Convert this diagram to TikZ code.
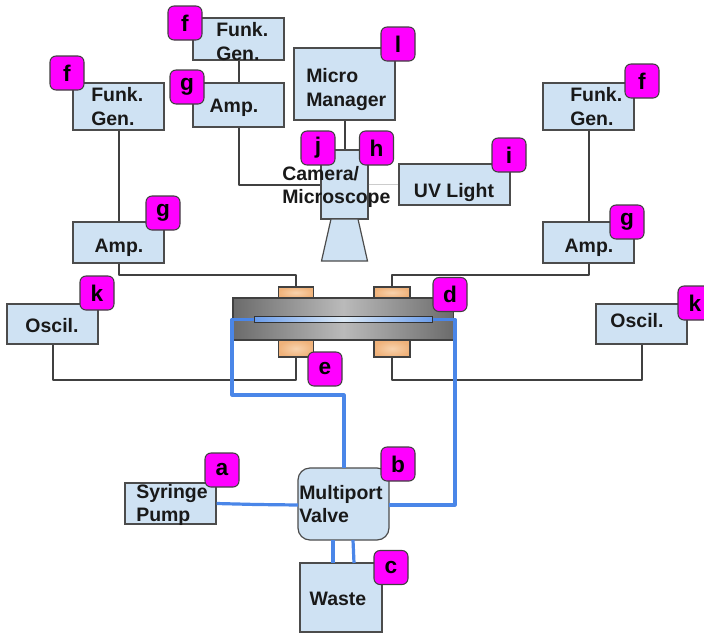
\documentclass[tikz,border=0pt]{standalone}
\usepackage{fontspec}
\setmainfont{Liberation Sans}
\begin{document}
\begin{tikzpicture}[x=0.75pt,y=-0.75pt,
  box/.style={draw=black!70,fill=boxblue,line width=0.9pt,inner sep=0pt},
  txt/.style={font=\fontsize{14.6}{17.4}\selectfont\bfseries,text=black!90,inner sep=0pt,align=left,anchor=west},
  badge/.style={draw=black!75,fill=badgecol,line width=0.8pt,rounded corners=4.5pt,minimum width=25.5pt,minimum height=25.5pt,inner sep=0pt,font=\fontsize{17}{19}\selectfont\bfseries},
  wire/.style={draw=black!75,line width=1.5pt,line join=round},
  tube/.style={draw=tubeblue,line width=2.4pt,line join=round},
  elec/.style={draw=black!75,line width=0.9pt,inner sep=0pt,inner color=elecl,outer color=elecd},
]
\definecolor{boxblue}{HTML}{CFE2F3}
\definecolor{badgecol}{HTML}{FF00FF}
\definecolor{tubeblue}{HTML}{4A86E8}
\definecolor{elecl}{HTML}{F8D3AE}
\definecolor{elecd}{HTML}{F0B27A}
\useasboundingbox (0,0) rectangle (704,633);
\newcommand{\bx}[6][box]{\node[#1,minimum width=#4*0.75pt,minimum height=#5*0.75pt] (#2) at (#3) {#6};}
% boxes
\bx{funkT}{238.5,39}{91}{42}{}
\bx{ampT}{238.5,105}{91}{44}{}
\bx{funkL}{118.5,106.5}{91}{47}{}
\bx{ampL}{118.5,242.5}{91}{41}{}
\bx{funkR}{588.5,106.5}{91}{47}{}
\bx{ampR}{588.5,242.5}{91}{41}{}
\bx{micro}{344.5,84}{101}{72}{}
\bx{uv}{454.5,184.5}{111}{41}{}
\bx{oscL}{52.5,324}{91}{40}{}
\bx{oscR}{641.5,324}{91}{40}{}
\bx{syr}{170.5,503.5}{91}{41}{}
\bx{waste}{341,597.5}{82}{69}{}
\node[box,rounded corners=9pt,minimum width=68.25pt,minimum height=54pt] (valve) at (343.5,504) {};
% connectors beneath the camera
\draw[wire] (funkT.south) -- (ampT.north);
\draw[wire] (funkL.south) -- (ampL.north);
\draw[wire] (funkR.south) -- (ampR.north);
\bx{cam}{344.5,184.5}{47}{69}{}
\draw[box] (331,219) -- (358,219) -- (367.5,261) -- (321.5,261) -- cycle;
\draw[wire] (micro.south) -- (cam.north);
\draw[wire] (ampT.south) |- (cam.west);
\draw[draw=black!20,line width=1.3pt] (cam.east) -- (uv.west);
% stage
\node[draw=black!75,line width=0.9pt,minimum width=165.4pt,minimum height=31.5pt,inner sep=0pt,left color=black!58,right color=black!58,middle color=black!27] (stage) at (343.25,319) {};
\node[elec,minimum width=26.25pt,minimum height=8.25pt] (elTL) at (296,292.5) {};
\node[elec,minimum width=27pt,minimum height=8.25pt] (elTR) at (392,292.5) {};
\node[elec,minimum width=26.25pt,minimum height=12.75pt] (elBL) at (296,348.5) {};
\node[elec,minimum width=27pt,minimum height=12.75pt] (elBR) at (392,348.5) {};
\draw[wire] (ampL.south) -- ++(0,11) -| (elTL.north);
\draw[wire] (ampR.south) -- ++(0,11) -| (elTR.north);
\draw[wire] (oscL.south) -- ++(0,35) -| (elBL.south);
\draw[wire] (oscR.south) -- ++(0,35) -| (elBR.south);
% tubing
\coordinate (vt) at (344,468);
\coordinate (vr) at (389,505);
\coordinate (wl) at (333,563);
\coordinate (wr) at (354,563);
\coordinate (vl1) at (333,540);
\coordinate (vl2) at (353,540);
\coordinate (syrv) at (298,505);
\node[draw=black!80,line width=0.9pt,minimum width=133.5pt,minimum height=4.9pt,inner sep=0pt,left color=tubeblue!75!boxblue,right color=tubeblue!75!boxblue,middle color=boxblue!70!white] (chan) at (343.5,319.5) {};
\draw[tube] (chan.west) -- (232,319.5) -- (232,395) -- (344,395) -- (vt);
\draw[tube] (chan.east) -- (455,319.5) -- (455,505) -- (vr);
\draw[tube] (syr.east) -- ++(40,1) -- (syrv);
\draw[tube] (vl1) -- (wl);
\draw[tube] (vl2) -- (wr);
% labels
\node[txt] (tFT) at (216,41.5) {Funk.\\Gen.};
\node[txt] (tFL) at (91,106.5) {Funk.\\Gen.};
\node[txt] (tFR) at (570,106.5) {Funk.\\Gen.};
\node[txt,anchor=center] (tAT) at (234,108) {Amp.};
\node[txt,anchor=center] (tAL) at (119,248) {Amp.};
\node[txt,anchor=center] (tAR) at (589,248) {Amp.};
\node[txt] (tMM) at (306,89.5) {Micro\\Manager};
\node[txt] (tCam) at (282,187) {Camera/\\Microscope};
\node[txt,anchor=center] (tUV) at (454,192.5) {UV Light};
\node[txt,anchor=center] (tOL) at (52,325.5) {Oscil.};
\node[txt,anchor=center] (tOR) at (637,320.5) {Oscil.};
\node[txt] (tSy) at (136,505) {Syringe\\Pump};
\node[txt] (tVa) at (299,504) {Multiport\\Valve};
\node[txt,anchor=center] (tWa) at (338,598.5) {Waste};
% badges
\node[badge] (bfT) at (185,23) {f};
\node[badge] (bl) at (398,44) {l};
\node[badge] (bfL) at (67,73) {f};
\node[badge] (bgT) at (187,87) {g};
\node[badge] (bj) at (318,148) {j};
\node[badge] (bh) at (376.5,148) {h};
\node[badge] (bi) at (509,155) {i};
\node[badge] (bfR) at (642,81) {f};
\node[badge] (bgL) at (163,213) {g};
\node[badge] (bgR) at (627,222) {g};
\node[badge] (bkL) at (97,293) {k};
\node[badge] (bkR) at (695,303) {k};
\node[badge] (bd) at (450,294.5) {d};
\node[badge] (be) at (325,369) {e};
\node[badge] (ba) at (222,470) {a};
\node[badge] (bb) at (398,464) {b};
\node[badge] (bc) at (391,567.5) {c};
\end{tikzpicture}
\end{document}
